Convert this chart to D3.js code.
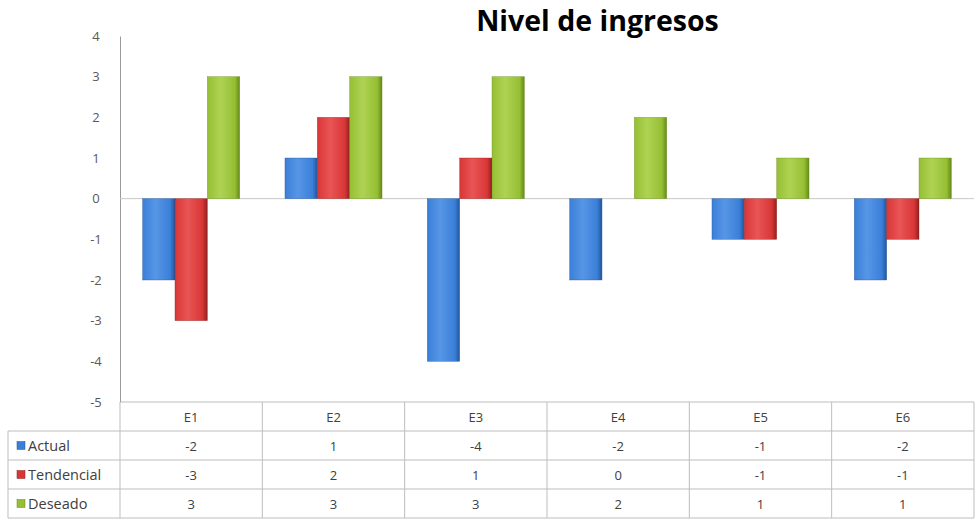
<!DOCTYPE html>
<html><head><meta charset="utf-8">
<script src="https://cdn.jsdelivr.net/npm/d3@7"></script>
<style>body{margin:0;background:#fff}svg{display:block}</style>
</head><body><div id="chart"></div>
<script>
const categories = ["E1","E2","E3","E4","E5","E6"];
const seriesNames = ["Actual","Tendencial","Deseado"];
const actual = [-2, 1, -4, -2, -1, -2];
const tendencial = [-3, 2, 1, 0, -1, -1];
const deseado = [3, 3, 3, 2, 1, 1];
const yTicks = [4,3,2,1,0,-1,-2,-3,-4,-5];
const title = "Nivel de ingresos";

(function(){
const seriesValues = [actual, tendencial, deseado];
const colors = [
  {dark:"#22559a", mid:"#3a7fd8", light:"#5796e6"},
  {dark:"#8f2020", mid:"#d93636", light:"#e95555"},
  {dark:"#648a1a", mid:"#96bf34", light:"#aed353"}
];

const W = 979, H = 522;
const pLeft = 120, pRight = 974, pTop = 36, pBottom = 402;
const tableLeft = 8;
const rowH = 29;

const svg = d3.select("#chart").append("svg").attr("width", W).attr("height", H);
const defs = svg.append("defs");
colors.forEach((c,i) => {
  const g = defs.append("linearGradient").attr("id","g"+i).attr("x1","0").attr("x2","1").attr("y1","0").attr("y2","0");
  g.append("stop").attr("offset","0%").attr("stop-color",c.mid);
  g.append("stop").attr("offset","40%").attr("stop-color",c.light);
  g.append("stop").attr("offset","85%").attr("stop-color",c.mid);
  g.append("stop").attr("offset","100%").attr("stop-color",c.dark);
});

const y = d3.scaleLinear().domain([-5,4]).range([pBottom, pTop]);
const x = d3.scaleBand().domain(categories).range([pLeft, pRight]).paddingInner(0.318).paddingOuter(0.159);
const xs = d3.scaleBand().domain(seriesNames).range([0, x.bandwidth()]).padding(0);
const ff = "'Open Sans', 'Liberation Sans', sans-serif";

// Title
svg.append("text").attr("x", 597.5).attr("y", 31).attr("text-anchor","middle")
  .attr("font-family",ff).attr("font-weight","bold")
  .attr("font-size", 28.5).attr("fill","#000").text(title);

// Y axis
const yAxis = svg.append("g").attr("transform",`translate(${pLeft},0)`)
  .call(d3.axisLeft(y).tickValues(yTicks).tickSize(0).tickPadding(20).tickFormat(d => String(d)));
yAxis.select(".domain").attr("stroke","#9a9a9a");
yAxis.selectAll("text").attr("font-family",ff).attr("font-size",13).attr("fill","#595959").attr("text-anchor","middle").attr("dx","-4");

// Zero line
svg.append("line").attr("x1", pLeft).attr("x2", pRight).attr("y1", y(0)).attr("y2", y(0)).attr("stroke","#c8c8c8");

// Bars
seriesNames.forEach((s,si) => {
  svg.append("g").selectAll("rect").data(categories).join("rect")
    .attr("x", c => x(c) + xs(s))
    .attr("width", xs.bandwidth())
    .attr("y", (c,i) => y(Math.max(0, seriesValues[si][i])))
    .attr("height", (c,i) => Math.abs(y(seriesValues[si][i]) - y(0)))
    .attr("fill", `url(#g${si})`)
    .attr("stroke", colors[si].dark).attr("stroke-width",0.6).attr("stroke-opacity",0.6);
});

// Data table
const tbl = svg.append("g");
const lineColor = "#bdbdbd";
const tableBottom = pBottom + rowH*4;
tbl.append("line").attr("x1", pLeft).attr("x2", pRight).attr("y1", pBottom).attr("y2", pBottom).attr("stroke", lineColor);
for (let r=1;r<=4;r++){
  tbl.append("line").attr("x1", tableLeft).attr("x2", pRight).attr("y1", pBottom+rowH*r).attr("y2", pBottom+rowH*r).attr("stroke", lineColor);
}
tbl.append("line").attr("x1", tableLeft).attr("x2", tableLeft).attr("y1", pBottom+rowH).attr("y2", tableBottom).attr("stroke", lineColor);
categories.forEach(c => {
  const x0 = x(c) - x.step()*x.paddingInner()/2;
  tbl.append("line").attr("x1", x0).attr("x2", x0).attr("y1", pBottom).attr("y2", tableBottom).attr("stroke", lineColor);
});
tbl.append("line").attr("x1", pRight).attr("x2", pRight).attr("y1", pBottom).attr("y2", tableBottom).attr("stroke", lineColor);

categories.forEach(c => {
  tbl.append("text").attr("x", x(c)+x.bandwidth()/2).attr("y", pBottom+rowH/2+5).attr("text-anchor","middle")
    .attr("font-family", ff).attr("font-size", 13).attr("fill","#404040").text(c);
});
seriesNames.forEach((s,si) => {
  const ry = pBottom + rowH*(si+1);
  tbl.append("rect").attr("x", 17).attr("y", ry+rowH/2-4).attr("width",8).attr("height",8).attr("fill", colors[si].mid).attr("stroke", colors[si].dark).attr("stroke-width",0.5);
  tbl.append("text").attr("x", 28).attr("y", ry+rowH/2+5).attr("font-family", ff).attr("font-size", 14.5).attr("fill","#404040").text(s);
  categories.forEach((c,ci) => {
    tbl.append("text").attr("x", x(c)+x.bandwidth()/2).attr("y", ry+rowH/2+5).attr("text-anchor","middle")
      .attr("font-family", ff).attr("font-size", 13).attr("fill","#404040").text(seriesValues[si][ci]);
  });
});
})();
</script></body></html>
